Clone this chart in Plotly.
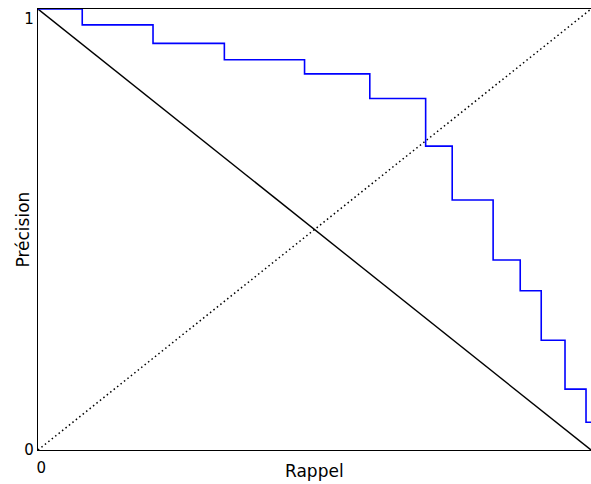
import plotly.graph_objects as go

# precision / recall curve
recall = [0, 0.080, 0.208, 0.337, 0.482, 0.600, 0.701, 0.749, 0.823, 0.872, 0.910, 0.953, 0.991, 1.0]
precision = [1.0, 0.964, 0.922, 0.885, 0.853, 0.797, 0.689, 0.567, 0.431, 0.361, 0.249, 0.138, 0.063, 0.063]

diag_x = [0, 1]
falling = [1, 0]
rising = [0, 1]

fig = go.Figure()
fig.add_trace(go.Scatter(x=diag_x, y=falling, mode="lines",
                         line=dict(color="black", width=1.4), cliponaxis=False))
fig.add_trace(go.Scatter(x=diag_x, y=rising, mode="lines",
                         line=dict(color="black", width=1.5, dash="1.5px,2.9px"),
                         cliponaxis=False))
fig.add_trace(go.Scatter(x=recall, y=precision, mode="lines", line_shape="hv",
                         line=dict(color="#0000ff", width=1.6), cliponaxis=False))

fig.update_layout(
    width=591, height=484,
    margin=dict(l=38, r=0, t=9, b=34),
    plot_bgcolor="white", paper_bgcolor="white",
    showlegend=False,
    font=dict(family="DejaVu Sans", size=15, color="black"),
)
fig.update_xaxes(range=[0, 1], tickvals=[0.006, 1], ticktext=["0", "1"],
                 showgrid=False, zeroline=False, showline=True, linecolor="black",
                 linewidth=1.4, mirror=True, ticks="", automargin=False,
                 ticklabelstandoff=4)
fig.update_yaxes(range=[0, 1], tickvals=[0, 0.978], ticktext=["0", "1"],
                 showgrid=False, zeroline=False, showline=True, linecolor="black",
                 linewidth=1.4, ticks="", automargin=False)

# axis titles as annotations so they can sit beside the tick labels
fig.add_annotation(text="Rappel", x=0.5, y=0, xref="paper", yref="paper",
                   yanchor="middle", yshift=-21, showarrow=False, font=dict(size=17))
fig.add_annotation(text="Précision", x=0, y=0.5, xref="paper", yref="paper",
                   xanchor="center", xshift=-16, textangle=-90, showarrow=False,
                   font=dict(size=17))

fig.write_html("out.html", config={"displayModeBar": False},
               post_script="document.body.style.margin='0';")
